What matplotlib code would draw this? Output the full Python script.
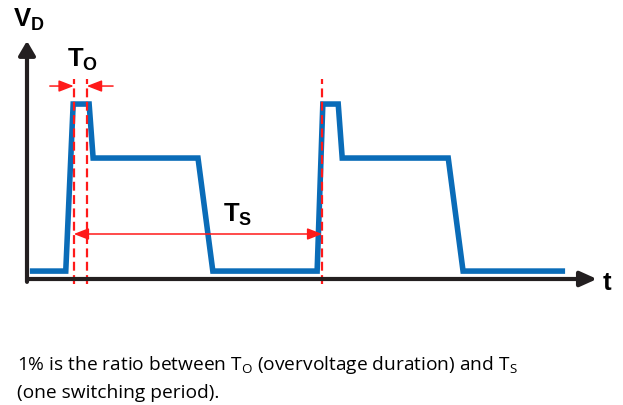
import matplotlib.pyplot as plt

plt.rcParams['mathtext.default'] = 'regular'

# waveform (time in arbitrary units, voltage in % of axis height)
t_wave = [0.5, 6.8, 8.1, 10.9, 11.6, 30.0, 32.6, 50.9, 51.9, 54.6, 55.3, 73.9, 76.5, 94.4]
v_wave = [3.3, 3.3, 72.9, 72.9, 50.4, 50.4, 3.3, 3.3, 72.9, 72.9, 50.4, 50.4, 3.3, 3.3]

# red dashed markers: start/end of overvoltage and start of next period
t_marks = [8.2, 10.5, 51.8]
mark_top = 83.3
mark_bottom = -2.1

to_level = 80.4
ts_level = 18.75

blue = '#0a6cb8'
red = '#ff1a1a'
dark = '#231f20'

fig = plt.figure(figsize=(6.23, 4.06), dpi=100)
ax = fig.add_axes([0, 0, 1, 1])
ax.set_xlim(-27 / 5.7, 596 / 5.7)
ax.set_ylim(-126 / 2.4, 280 / 2.4)
ax.axis('off')

# axes with arrow heads
ax.annotate('', xy=(100, 0), xytext=(0, 0),
            arrowprops=dict(arrowstyle='-|>,head_length=1.0,head_width=0.45', lw=3,
                            color=dark, mutation_scale=10, shrinkA=0, shrinkB=0))
ax.annotate('', xy=(0, 99.2), xytext=(0, -1.2),
            arrowprops=dict(arrowstyle='-|>,head_length=0.85,head_width=0.5', lw=3,
                            color=dark, mutation_scale=10, shrinkA=0, shrinkB=0))

# the waveform
ax.plot(t_wave, v_wave, color=blue, lw=4, solid_joinstyle='miter', solid_capstyle='butt')

# dashed markers
for tm in t_marks:
    ax.plot([tm, tm], [mark_bottom, mark_top], color=red, lw=1.6, ls=(0, (4, 2)))

# T_O arrows
arr = dict(arrowstyle='-|>,head_length=0.9,head_width=0.35', lw=1.1, color=red,
           mutation_scale=10, shrinkA=0, shrinkB=0)
ax.annotate('', xy=(t_marks[0], to_level), xytext=(4.0, to_level), arrowprops=arr)
ax.annotate('', xy=(t_marks[1], to_level), xytext=(15.1, to_level), arrowprops=arr)

# T_S arrow
ax.annotate('', xy=(t_marks[2], ts_level), xytext=(t_marks[0], ts_level),
            arrowprops=dict(arrowstyle='<|-|>,head_length=0.9,head_width=0.35', lw=1.1,
                            color=red, mutation_scale=10, shrinkA=0, shrinkB=0))

lab = dict(family='Liberation Sans', fontweight='bold', fontsize=18.5, color='black',
           ha='left', va='baseline')
ax.text(-2.46, 105.4, 'V$_D$', **lab)
ax.text(7.0, 88.75, 'T$_O$', **lab)
ax.text(34.4, 24.2, 'T$_S$', **lab)
ax.text(101.0, -4.2, 't', **lab)

cap = dict(family='Open Sans', fontsize=13.8, color='black', ha='left', va='baseline')
fig.text(17 / 623, 1 - 370 / 406,
         '1% is the ratio between T$_O$ (overvoltage duration) and T$_S$', **cap)
fig.text(17 / 623, 1 - 398 / 406, '(one switching period).', **cap)

fig.savefig('out.png', dpi=100)
